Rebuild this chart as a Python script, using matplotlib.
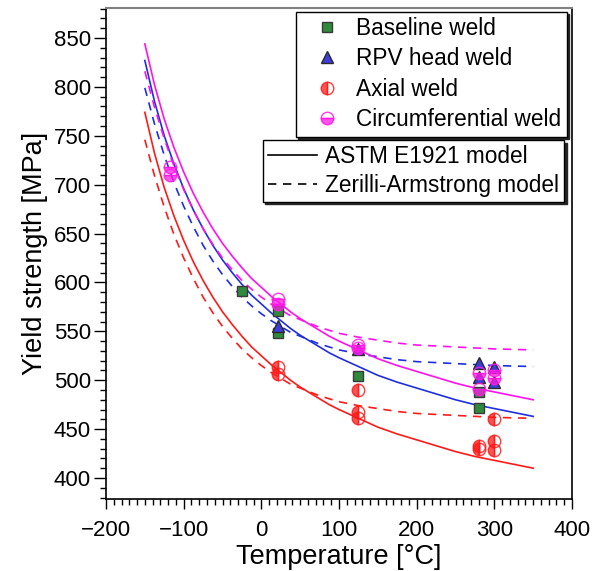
import matplotlib
matplotlib.use('Agg')
import matplotlib.pyplot as plt
from matplotlib.lines import Line2D
from matplotlib.ticker import MultipleLocator

plt.rcParams['font.family'] = ['Liberation Sans', 'DejaVu Sans']

# Curvas de los modelos
temp_modelo = [-150, -137.5, -125, -112.5, -100, -87.5, -75, -62.5, -50, -37.5, -25, -12.5,
               0, 12.5, 25, 37.5, 50, 62.5, 75, 87.5, 100, 125, 150, 175, 200, 225, 250,
               275, 300, 325, 350]
astm_axial = [774, 732, 697, 668, 643, 621, 602, 585, 570, 557, 545, 534,
              525, 516, 508, 500, 493, 487, 481, 475, 470, 461, 452, 445, 439, 433, 427,
              422, 418, 414, 410]
astm_rpv = [827, 785, 750, 721, 696, 674, 655, 638, 623, 610, 598, 587,
            578, 569, 561, 553, 546, 540, 534, 528, 523, 514, 505, 498, 492, 486, 480,
            475, 471, 467, 463]
astm_circ = [844, 802, 767, 738, 713, 691, 672, 655, 640, 627, 615, 604,
             595, 586, 578, 570, 563, 557, 551, 545, 540, 531, 522, 515, 509, 503, 497,
             492, 488, 484, 480]
za_axial = [746, 709, 677, 649, 625, 604, 585, 569, 555, 543, 532, 523,
            515, 508, 502, 496, 492, 488, 484, 481, 478, 474, 471, 468, 466, 465, 464,
            463, 462, 461.5, 461]
za_rpv = [799, 762, 730, 702, 678, 657, 638, 622, 608, 596, 585, 576,
          568, 561, 555, 549, 545, 541, 537, 534, 531, 527, 524, 521, 519, 518, 517,
          516, 515, 514.5, 514]
za_circ = [816, 779, 747, 719, 695, 674, 655, 639, 625, 613, 602, 593,
           585, 578, 572, 566, 562, 558, 554, 551, 548, 544, 541, 538, 536, 535, 534,
           533, 532, 531.5, 531]

# Datos experimentales
temp_base = [-25, 22, 22, 125, 280, 280]
ys_base = [591, 571, 548, 504, 488, 472]

temp_rpv = [22, 125, 280, 280, 300, 300]
ys_rpv = [555, 532, 518, 503, 513, 498]

temp_axial = [22, 22, 125, 125, 125, 280, 280, 300, 300, 300]
ys_axial = [514, 506, 490, 467, 461, 433, 430, 460, 438, 429]

temp_circ = [-118, -118, 22, 22, 125, 125, 280, 280, 300, 300]
ys_circ = [718, 710, 583, 578, 536, 533, 507, 491, 510, 502]

fig = plt.figure(figsize=(6.03, 5.71), dpi=100)
ax = fig.add_axes([106 / 603, 1 - 499 / 571, 466 / 603, 491 / 571])

# Lineas de los modelos
ax.plot(temp_modelo, astm_axial, '-', color='#ff1a1a', lw=1.2)
ax.plot(temp_modelo, za_axial, '--', color='#ff1a1a', lw=1.2, dashes=(5, 4))
ax.plot(temp_modelo, astm_rpv, '-', color='#1f2fdf', lw=1.2)
ax.plot(temp_modelo, za_rpv, '--', color='#1f2fdf', lw=1.2, dashes=(5, 4))
ax.plot(temp_modelo, astm_circ, '-', color='#ff11ee', lw=1.2)
ax.plot(temp_modelo, za_circ, '--', color='#ff11ee', lw=1.2, dashes=(5, 4))

# Puntos
ax.plot(temp_base, ys_base, 's', ms=7.5, mfc='#2f8a3c', mec='#3a3a3a', mew=1.0)
ax.plot(temp_rpv, ys_rpv, '^', ms=8.5, mfc='#3d3ddb', mec='#2a2a2a', mew=1.0)
ax.plot(temp_axial, ys_axial, 'o', ms=9, fillstyle='left', mfc=(1, 0.1, 0.1, 0.75),
        mec=(1, 0.1, 0.1, 0.85), mew=1.0)
ax.plot(temp_circ, ys_circ, 'o', ms=9, fillstyle='bottom', mfc=(1, 0.1, 0.9, 0.75),
        mec=(1, 0.1, 0.9, 0.85), mew=1.0)

ax.set_xlim(-200, 400)
ax.set_ylim(378.5, 880.7)
ax.xaxis.set_major_locator(MultipleLocator(100))
ax.xaxis.set_minor_locator(MultipleLocator(10))
ax.yaxis.set_major_locator(MultipleLocator(50))
ax.yaxis.set_minor_locator(MultipleLocator(10))
ax.tick_params(axis='x', which='major', direction='out', length=7, width=1, pad=8, labelsize=16)
ax.tick_params(axis='y', which='major', direction='out', length=9, width=1, pad=2, labelsize=16)
ax.tick_params(which='minor', direction='out', length=4, width=1)
for lado in ['left', 'bottom', 'right']:
    ax.spines[lado].set_linewidth(1.2)
ax.spines['top'].set_color('0.5')
ax.spines['top'].set_linewidth(1.5)

ax.set_xlabel('Temperature [°C]', fontsize=19.5, labelpad=2)
ax.set_ylabel('Yield strength [MPa]', fontsize=19.5, labelpad=4)

# Leyenda de materiales
marcas = [
    Line2D([], [], ls='none', marker='s', ms=7.5, mfc='#2f8a3c', mec='#3a3a3a', mew=1.0),
    Line2D([], [], ls='none', marker='^', ms=8.5, mfc='#3d3ddb', mec='#2a2a2a', mew=1.0),
    Line2D([], [], ls='none', marker='o', ms=9, fillstyle='left', mfc=(1, 0.1, 0.1, 0.75),
           mec=(1, 0.1, 0.1, 0.85), mew=1.0),
    Line2D([], [], ls='none', marker='o', ms=9, fillstyle='bottom', mfc=(1, 0.1, 0.9, 0.75),
           mec=(1, 0.1, 0.9, 0.85), mew=1.0),
]
nombres = ['Baseline weld', 'RPV head weld', 'Axial weld', 'Circumferential weld']
leg1 = ax.legend(marcas, nombres, loc='upper right', bbox_to_anchor=(0.9886, 0.9925),
                 borderaxespad=0, fontsize=16.3, fancybox=False, framealpha=1,
                 edgecolor='black', borderpad=0.23, labelspacing=0.33, handlelength=2.3,
                 handletextpad=0.15, shadow={'color': '0.15', 'alpha': 1})
leg1.get_frame().set_linewidth(1.0)
ax.add_artist(leg1)

# Leyenda de modelos
lineas = [Line2D([], [], color='black', lw=1.2, ls='-'),
          Line2D([], [], color='black', lw=1.2, ls='--', dashes=(5, 4))]
leg2 = ax.legend(lineas, ['ASTM E1921 model', 'Zerilli-Armstrong model'], loc='upper right',
                 bbox_to_anchor=(0.9835, 0.7312), borderaxespad=0, fontsize=16.3,
                 fancybox=False, framealpha=1, edgecolor='black', borderpad=0.22,
                 labelspacing=0.25, handlelength=2.2, handletextpad=0.35,
                 shadow={'color': '0.15', 'alpha': 1})
leg2.get_frame().set_linewidth(1.0)

fig.savefig('out.png', dpi=100)
